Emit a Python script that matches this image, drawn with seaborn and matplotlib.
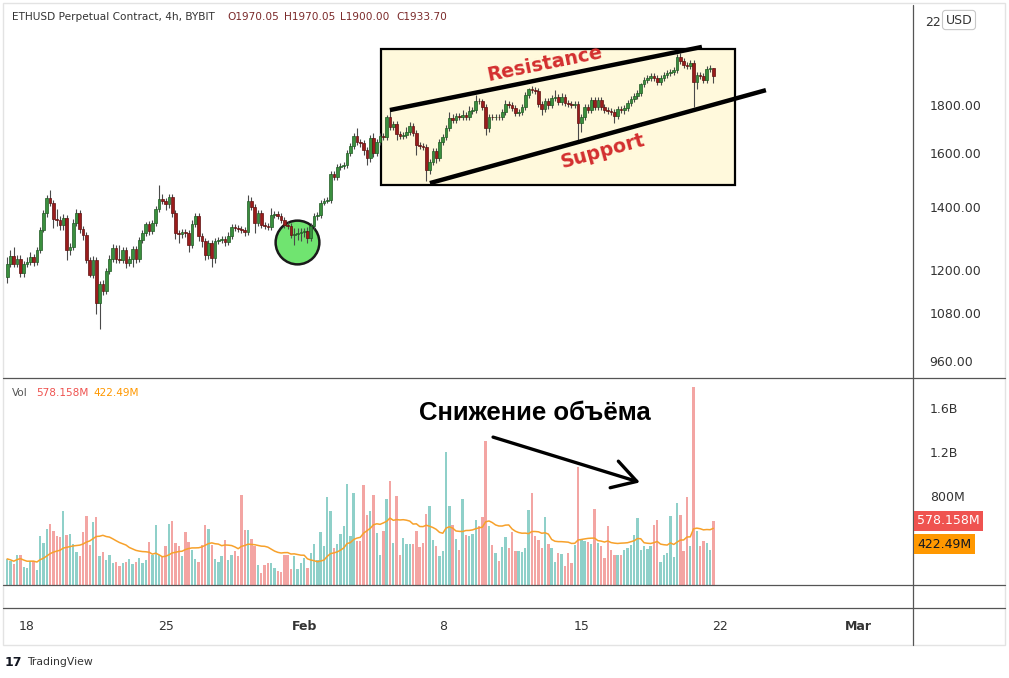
import numpy as np
import pandas as pd
import matplotlib
matplotlib.use("Agg")
import matplotlib.pyplot as plt
import seaborn as sns
from matplotlib.lines import Line2D
from matplotlib.patches import Rectangle
from matplotlib.ticker import NullLocator
import matplotlib.transforms as mtransforms

# ---------------- data (ETHUSD 4h, BYBIT) ----------------
first_open = 1180.0
close = [
    1218, 1242, 1218, 1233, 1191, 1218, 1224, 1239, 1224, 1261,
    1324, 1380, 1432, 1414, 1360, 1358, 1340, 1364, 1261, 1270,
    1347, 1380, 1327, 1308, 1230, 1186, 1230, 1107, 1160, 1140,
    1198, 1233, 1267, 1233, 1231, 1261, 1221, 1233, 1264, 1233,
    1292, 1315, 1344, 1321, 1347, 1394, 1429, 1421, 1411, 1436,
    1380, 1315, 1313,
    1318, 1315, 1276, 1344, 1370, 1305, 1289, 1245, 1282, 1236,
    1289, 1292, 1295, 1286, 1305, 1334, 1330, 1327, 1324, 1318,
    1421, 1401, 1347, 1380, 1340, 1337, 1335, 1374, 1377, 1370,
    1357, 1340, 1337, 1308, 1311, 1315, 1318, 1321, 1298, 1337,
    1370, 1374, 1414, 1421, 1425, 1519, 1508, 1546, 1549, 1553,
    1600, 1627, 1668, 1643, 1641, 1611, 1580, 1660, 1600, 1643,
    1668, 1664, 1748,
    1705, 1718, 1676, 1668, 1672, 1684, 1710, 1680, 1631, 1627,
    1625, 1534, 1565, 1608, 1580, 1643, 1664, 1701, 1743, 1735,
    1752, 1750, 1756, 1748, 1774, 1778, 1818, 1816, 1791, 1701,
    1748, 1746, 1749, 1747, 1769, 1804, 1802, 1787, 1765, 1769,
    1791, 1845, 1872, 1867, 1865, 1804, 1782, 1818, 1800, 1831,
    1836,
    1813, 1836, 1809, 1804, 1802, 1806, 1722, 1748, 1791, 1778,
    1822, 1791, 1822, 1791, 1778, 1774, 1769, 1752, 1782, 1778,
    1787, 1809, 1827, 1840, 1854, 1895, 1914, 1924, 1933, 1924,
    1905, 1924, 1938, 1947, 1952, 1962, 2025, 2005, 1986, 1981,
    1996, 1905, 1938, 1933, 1914, 1966, 1970.05, 1933.70,
]
upper_wick = [
    22, 19, 28, 12, 12, 9, 15, 15, 9, 10, 10, 11, 11, 28, 10, 34, 14, 14, 10, 13,
    14, 14, 10, 10, 10, 9, 12, 9, 9, 12, 9, 12, 12, 10, 44, 10, 10, 9, 10, 10,
    10, 10, 7, 10, 10, 10, 50, 17, 10, 11, 10, 10, 10,
    10, 10, 10, 13, 10, 10, 10, 10, 10, 10, 10, 10, 10, 10, 13, 10, 10, 10, 10, 10,
    24, 14, 10, 10, 10, 10, 10, 23, 10, 10, 10, 10, 10, 10, 20, 16, 13, 10, 13, 10,
    10, 11, 11, 11, 11, 11, 11, 11, 11, 12, 12, 12, 12, 32, 12, 12, 12, 12, 20, 12,
    12, 12, 9,
    38, 13, 13, 13, 13, 21, 17, 13, 13, 13, 13, 12, 12, 12, 12, 12, 12, 13, 26, 17,
    13, 13, 22, 13, 22, 13, 26, 13, 13, 13, 13, 13, 13, 13, 13, 17, 13, 13, 13, 13,
    13, 14, 5, 14, 14, 14, 13, 14, 14, 14, 30,
    13, 18, 13, 13, 13, 13, 13, 13, 13, 13, 13, 13, 13, 13, 13, 13, 13, 13, 13, 13,
    13, 13, 13, 14, 14, 5, 14, 14, 14, 14, 14, 14, 14, 14, 14, 14, 15, 20, 14, 14,
    14, 14, 14, 14, 14, 14, 14, 0,
]
lower_wick = [
    18, 9, 9, 9, 12, 12, 9, 9, 12, 10, 10, 7, 11, 10, 30, 20, 14, 14, 32, 16,
    10, 10, 13, 16, 9, 6, 9, 28, 68, 12, 9, 9, 9, 12, 9, 9, 15, 9, 24, 12,
    10, 10, 10, 13, 10, 10, 10, 10, 20, 13, 13, 19, 30,
    13, 13, 22, 10, 10, 16, 19, 15, 12, 27, 15, 10, 10, 12, 10, 10, 10, 10, 10, 13,
    10, 10, 33, 10, 10, 10, 10, 10, 10, 10, 10, 10, 10, 10, 32, 19, 26, 16, 16, 10,
    10, 11, 11, 7, 7, 11, 11, 11, 11, 12, 12, 12, 12, 12, 16, 20, 27, 16, 16, 12,
    12, 12, 12,
    13, 13, 25, 13, 13, 13, 13, 13, 40, 12, 12, 42, 15, 12, 20, 12, 12, 13, 13, 13,
    13, 13, 13, 13, 13, 13, 13, 13, 13, 29, 17, 13, 13, 13, 13, 13, 13, 13, 13, 13,
    13, 14, 14, 14, 14, 14, 26, 13, 18, 14, 14,
    13, 13, 13, 13, 13, 13, 72, 37, 13, 13, 13, 13, 13, 13, 13, 13, 13, 30, 13, 13,
    17, 13, 13, 14, 14, 14, 14, 14, 14, 14, 14, 14, 14, 14, 14, 14, 14, 14, 14, 14,
    14, 115, 33, 14, 14, 14, 14, 33.7,
]
volume_m = [
    236, 218, 191, 273, 273, 161, 152, 218, 218, 136,
    445, 379, 509, 554, 491, 445, 433, 673, 455, 464,
    373, 294, 258, 476, 621, 364, 567, 612, 264, 300,
    227, 273, 197, 212, 173, 203, 212, 233, 188, 212,
    242, 203, 227, 391, 273, 545, 273, 258, 348, 554,
    582, 379, 348, 258, 476, 391, 318, 236, 212, 358,
    545, 509, 358, 236, 206, 258, 403, 227, 273, 309,
    258, 809, 500, 500, 418, 348, 182, 112, 182, 203,
    197, 152, 127, 115, 273, 267, 145, 258, 145, 197,
    248, 158, 291, 373, 227, 482, 348, 794, 673, 333,
    373, 464, 536, 909, 439, 827, 400,
    394, 900, 636, 673, 809, 470, 273, 485, 773, 939,
    379, 803, 267, 424, 373, 373, 373, 485, 339, 379,
    645, 718, 409, 348, 264, 303, 1203, 718, 539, 418,
    312, 773, 451, 439, 464, 591, 530, 612, 1303, 530,
    358, 288, 218, 339, 430, 333, 479, 309, 303, 294, 330,
    682, 833, 439, 409, 333, 612, 373, 333, 212, 288,
    282, 176, 288, 203, 358, 1070, 418, 394, 388, 373,
    691, 379, 348, 242, 530, 318, 273, 273, 267, 318,
    333, 364, 455, 606, 318, 348, 327, 348, 539, 591,
    212, 267, 288, 627, 251, 742, 636, 303, 797, 348,
    1788, 485, 348, 400, 379, 312, 578.158,
]
price_ticks = [960, 1080, 1200, 1400, 1600, 1800]
vol_ticks = [800, 1200, 1600]
vol_tick_labels = ["800M", "1.2B", "1.6B"]
date_ticks = [0, 7, 14, 21, 28, 35, 42]          # days after 18 Jan 2021
date_labels = ["18", "25", "Feb", "8", "15", "22", "Mar"]
last_vol_label = "578.158M"
ma_label = "422.49M"

# ---------------- figure ----------------
sns.set_theme(style="white")
plt.rcParams["font.family"] = ["DejaVu Sans"]

W, H = 1009, 678
fig = plt.figure(figsize=(W / 100, H / 100), dpi=100, facecolor="white")


def fx(px):
    return px / W


def fy(py):
    return 1 - py / H


L, R = 3, 913
ax_p = fig.add_axes([fx(L), fy(378), fx(R) - fx(L), fy(5) - fy(378)])
ax_v = fig.add_axes([fx(L), fy(585), fx(R) - fx(L), fy(378) - fy(585)], sharex=ax_p)
ax_e = fig.add_axes([fx(L), fy(608), fx(R) - fx(L), fy(585) - fy(608)], sharex=ax_p)
ax_d = fig.add_axes([fx(L), fy(645), fx(R) - fx(L), fy(608) - fy(645)], sharex=ax_p)

n = len(close)
close_a = np.array(close, dtype=float)
open_a = np.concatenate([[first_open], close_a[:-1]])
high_a = np.maximum(open_a, close_a) + np.array(upper_wick, dtype=float)
low_a = np.minimum(open_a, close_a) - np.array(lower_wick, dtype=float)
vol_a = np.array(volume_m, dtype=float)
xs = -1 + np.arange(n) / 6.0
up = close_a >= open_a

df = pd.DataFrame({"x": xs, "vol": vol_a})
df["ma"] = df["vol"].rolling(20, min_periods=1).mean()

for ax in (ax_p, ax_v, ax_e, ax_d):
    ax.set_facecolor("white")
    for s in ax.spines.values():
        s.set_visible(False)
    ax.tick_params(axis="x", bottom=False, labelbottom=False)
    ax.set_xlim(-1.212, 44.75)
ax_e.set_yticks([])
ax_d.set_yticks([])

# ---- price pane ----
ax_p.set_yscale("log")
ax_p.set_ylim(921, 2301)
ax_p.yaxis.tick_right()
ax_p.yaxis.set_minor_locator(NullLocator())
ax_p.set_yticks(price_ticks)
ax_p.set_yticklabels([f"{t:.2f}" for t in price_ticks])
ax_p.tick_params(axis="y", length=0, pad=12, labelsize=9, labelcolor="#333333")

# channel box
ax_p.add_patch(Rectangle((17.88, 1479), 35.76 - 17.88, 2066 - 1479,
                         facecolor="#fff9dc", edgecolor="black", lw=1.6, zorder=1))
# green circle
ax_p.plot([13.64], [1286], marker="o", ms=31.5, mfc="#70e470", mec="#1a1a1a",
          mew=1.8, zorder=2, ls="none")

# candles
ax_p.vlines(xs, low_a, high_a, color="#4a4a4a", lw=0.8, zorder=3)
body_lo = np.minimum(open_a, close_a)
body_h = np.maximum(np.abs(close_a - open_a), body_lo * 0.0012)
ax_p.bar(xs, body_h, bottom=body_lo, width=0.135,
         color=np.where(up, "#3a8f3e", "#9a1c1c"),
         edgecolor=np.where(up, "#1f5a23", "#5e1010"), linewidth=0.5, zorder=4)

# channel lines
ax_p.plot([18.33, 34.09], [1778, 2076], color="black", lw=3.2, zorder=5,
          solid_capstyle="butt")
ax_p.plot([20.35, 37.32], [1486, 1867], color="black", lw=3.2, zorder=5,
          solid_capstyle="butt")
ax_p.text(26.16, 1991, "Resistance", rotation=11.5, color="#d32f2f",
          fontweight="bold", fontsize=13.8, ha="center", va="center",
          rotation_mode="anchor", zorder=6)
ax_p.text(29.09, 1608, "Support", rotation=15.5, color="#d32f2f",
          fontweight="bold", fontsize=13.8, ha="center", va="center",
          rotation_mode="anchor", zorder=6)

# ---- volume pane ----
ax_v.set_ylim(0, 1870)
ax_v.bar(xs, vol_a, width=0.12, color=np.where(up, "#8fd0c9", "#f3a5a3"),
         linewidth=0, zorder=2)
sns.lineplot(data=df, x="x", y="ma", ax=ax_v, color="#f7a12b", linewidth=1.1,
             legend=False, zorder=3)
ax_v.set_xlabel("")
ax_v.set_ylabel("")
ax_v.yaxis.tick_right()
ax_v.set_yticks(vol_ticks)
ax_v.set_yticklabels(vol_tick_labels)
ax_v.tick_params(axis="y", length=0, pad=12, labelsize=9, labelcolor="#333333")
ax_v.tick_params(axis="x", bottom=False, labelbottom=False)

ax_v.text(0.585, 0.83, "Снижение объёма", transform=ax_v.transAxes,
          fontsize=18.5, fontweight="bold", color="black", ha="center", va="center",
          family=["Liberation Sans", "DejaVu Sans"])
ax_v.annotate("", xy=(30.96, 927), xytext=(23.54, 1336),
              arrowprops=dict(arrowstyle="->,head_length=0.85,head_width=0.5",
                              lw=2.4, color="black", mutation_scale=20,
                              shrinkA=0, shrinkB=0))

# ---- date axis ----
trans_d = mtransforms.blended_transform_factory(ax_d.transData, ax_d.transAxes)
for d, lab in zip(date_ticks, date_labels):
    bold = lab in ("Feb", "Mar")
    ax_d.text(d, 0.5, lab, transform=trans_d, ha="center", va="center",
              fontsize=9, color="#333333", fontweight="bold" if bold else "normal")

# ---- frame lines ----
line_c = "#555555"
for yy in (378, 585, 608):
    fig.add_artist(Line2D([fx(L), fx(1005)], [fy(yy), fy(yy)], color=line_c, lw=0.9))
fig.add_artist(Line2D([fx(R), fx(R)], [fy(5), fy(645)], color=line_c, lw=0.9))
fig.add_artist(Rectangle((fx(3), fy(645)), fx(1005) - fx(3), fy(3) - fy(645),
                         transform=fig.transFigure, fill=False,
                         edgecolor="#e3e3e3", lw=1))

# ---- header / legends ----
fig.text(fx(12), fy(17), "ETHUSD Perpetual Contract, 4h, BYBIT", fontsize=7.6,
         color="#333333", va="center", ha="left")
for px, s in ((227, "O1970.05"), (284, "H1970.05"), (340, "L1900.00"), (396, "C1933.70")):
    fig.text(fx(px), fy(17), s, fontsize=7.6, color="#7b2a2a", va="center", ha="left")

fig.text(fx(12), fy(393), "Vol", fontsize=7.6, color="#555555", va="center")
fig.text(fx(36), fy(393), last_vol_label, fontsize=7.6, color="#ef5350", va="center")
fig.text(fx(93), fy(393), ma_label, fontsize=7.6, color="#ff9800", va="center")

fig.text(fx(917), fy(521), last_vol_label, fontsize=9, color="white", va="center",
         ha="left", bbox=dict(boxstyle="square,pad=0.28", fc="#ef5350", ec="none"))
fig.text(fx(917), fy(544), ma_label, fontsize=9, color="#131722", va="center",
         ha="left", bbox=dict(boxstyle="square,pad=0.28", fc="#ff9800", ec="none"))
# top price label partly hidden behind the currency badge in the reference
fig.text(fx(925), fy(23), "22", fontsize=9, color="#333333", va="center", ha="left")
fig.text(fx(959), fy(20), "USD", fontsize=9, color="#333333", va="center", ha="center",
         bbox=dict(boxstyle="round,pad=0.25", fc="white", ec="#c8c8c8", lw=0.8))

fig.text(fx(5), fy(662), "17", fontsize=9, fontweight="bold", color="#131722",
         va="center", ha="left")
fig.text(fx(27), fy(662), "TradingView", fontsize=7.8, color="#333333",
         va="center", ha="left")

fig.savefig("out.png", dpi=100, facecolor="white")
